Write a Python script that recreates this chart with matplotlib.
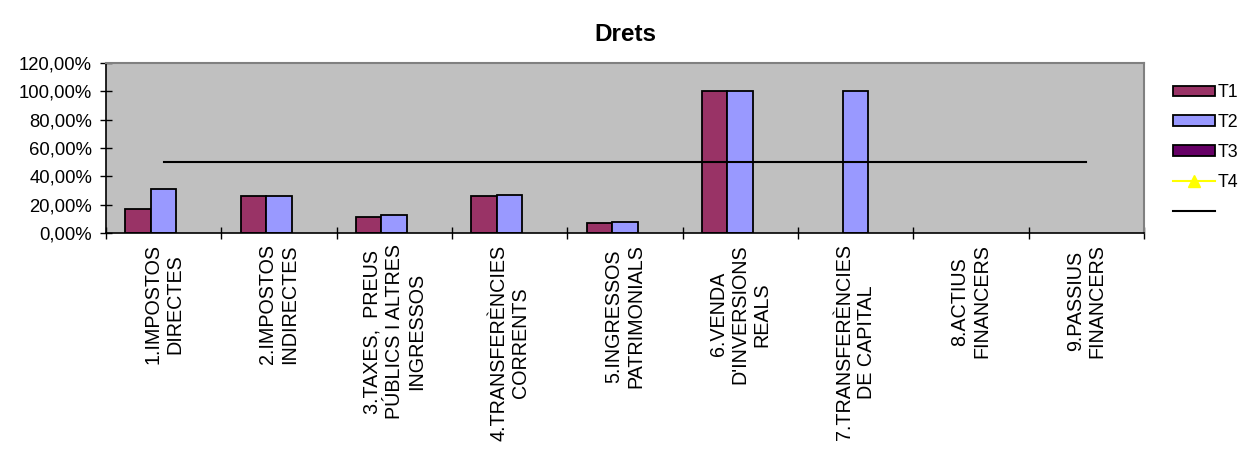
import numpy as np
import matplotlib
matplotlib.use("Agg")
import matplotlib.pyplot as plt
from matplotlib.patches import Patch
from matplotlib.lines import Line2D
from matplotlib.ticker import FuncFormatter, FixedLocator

plt.rcParams["font.family"] = ["Liberation Sans", "DejaVu Sans"]

categories = ["1.IMPOSTOS\nDIRECTES", "2.IMPOSTOS\nINDIRECTES",
              "3.TAXES,  PREUS\nPÚBLICS I ALTRES\nINGRESSOS",
              "4.TRANSFERÈNCIES\nCORRENTS", "5.INGRESSOS\nPATRIMONIALS",
              "6.VENDA\nD'INVERSIONS\nREALS", "7.TRANSFERÈNCIES\nDE CAPITAL",
              "8.ACTIUS\nFINANCERS", "9.PASSIUS\nFINANCERS"]
t1 = [0.17, 0.26, 0.113, 0.26, 0.07, 1.00, np.nan, np.nan, np.nan]
t2 = [0.31, 0.26, 0.127, 0.265, 0.08, 1.00, 1.00, np.nan, np.nan]
t3 = [np.nan] * 9
t4 = [np.nan] * 9
target = [0.5] * 9

fig = plt.figure(figsize=(12.42, 4.49), dpi=100)
ax = fig.add_axes([0.0853, 0.481, 0.8357, 0.379])
ax.set_facecolor("#C0C0C0")

x = np.arange(len(categories))
w = 0.222
ax.bar(x - w, t1, w, color="#993366", edgecolor="black", linewidth=1.3)
ax.bar(x, t2, w, color="#9999FF", edgecolor="black", linewidth=1.3)
ax.bar(x + w, t3, w, color="#660066", edgecolor="black", linewidth=1.3)
ax.plot(x, t4, color="#FFFF00", marker="^")
ax.plot(x, target, color="black", linewidth=1.5)

ax.set_xlim(-0.5, len(categories) - 0.5)
ax.set_ylim(0, 1.2)
ax.set_yticks(np.arange(0, 1.21, 0.2))
ax.yaxis.set_major_formatter(FuncFormatter(lambda v, p: f"{v*100:.2f}%".replace(".", ",")))
ax.xaxis.set_major_locator(FixedLocator(np.arange(-0.5, len(categories), 1.0)))
ax.set_xticklabels([])
ax.tick_params(axis="x", direction="inout", length=8, width=1, color="black")
ax.tick_params(axis="y", direction="inout", length=8, width=1, color="black",
               labelsize=13.3, pad=6)
for i, lab in enumerate(categories):
    ax.text(i, -0.08, lab, rotation=90, ha="center", va="top",
            multialignment="center", fontsize=14.2, linespacing=1.2,
            transform=ax.transData, clip_on=False)

for side in ("top", "right"):
    ax.spines[side].set_color("#808080")
    ax.spines[side].set_linewidth(1.5)
for side in ("left", "bottom"):
    ax.spines[side].set_color("black")
    ax.spines[side].set_linewidth(1.2)

ax.set_title("Drets", fontsize=17.5, fontweight="bold", pad=16)

handles = [Patch(facecolor="#993366", edgecolor="black", linewidth=1.3),
           Patch(facecolor="#9999FF", edgecolor="black", linewidth=1.3),
           Patch(facecolor="#660066", edgecolor="black", linewidth=1.3),
           Line2D([], [], color="#FFFF00", marker="^", markersize=8),
           Line2D([], [], color="black", linewidth=1.5)]
labels = ["T1", "T2", "T3", "T4", ""]
fig.legend(handles, labels, loc="upper left", bbox_to_anchor=(0.9385, 0.828),
           frameon=False, fontsize=12.8, handlelength=2.4, handleheight=0.55,
           handletextpad=0.15, labelspacing=0.72, borderaxespad=0)

fig.savefig("out.png", dpi=100)
